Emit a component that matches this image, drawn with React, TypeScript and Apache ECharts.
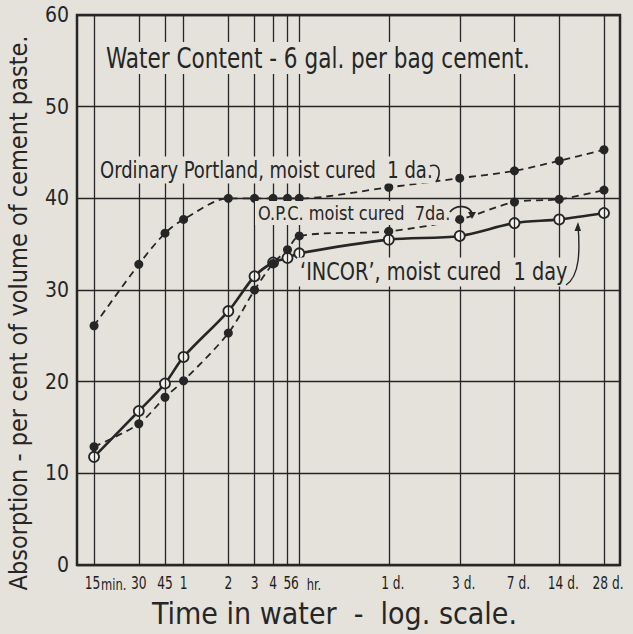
import React, { useEffect, useRef } from "react";
import * as echarts from "echarts";

// Time in water, in hours (log scale)
const hours = [0.25, 0.5, 0.75, 1, 2, 3, 4, 5, 6, 24, 72, 168, 336, 672];
const tickLabels = ["15", "30", "45", "1", "2", "3", "4", "5", "6", "1 d.", "3 d.", "7 d.", "14 d.", "28 d."];
const minuteUnit = "min.";
const hourUnit = "hr.";

// Absorption, per cent of volume of cement paste
const ordinaryPortland1da = [26.1, 32.8, 36.2, 37.7, 40.0, 40.0, 40.0, 40.0, 40.0, 41.2, 42.2, 43.0, 44.1, 45.3];
const opc7da = [12.9, 15.4, 18.3, 20.1, 25.3, 30.0, 32.9, 34.4, 35.9, 36.4, 37.7, 39.6, 39.9, 40.9];
const incor1day = [11.8, 16.8, 19.8, 22.7, 27.7, 31.5, 33.0, 33.5, 34.0, 35.5, 35.9, 37.3, 37.7, 38.4];

const yTicks = [0, 10, 20, 30, 40, 50, 60];

const titleText = "Water Content - 6 gal. per bag cement.";
const opLabel = "Ordinary Portland, moist cured  1 da.";
const opcLabel = "O.P.C. moist cured  7da.";
const incorLabel = "\u2018INCOR\u2019, moist cured  1 day";
const xName = "Time in water  -  log. scale.";
const yName = "Absorption - per cent of volume of cement paste.";

const FONT = "'DejaVu Sans Condensed', 'DejaVu Sans', sans-serif";
const INK = "#262626";
const PAPER = "#e4e2db";

export default function App() {
  const ref = useRef<HTMLDivElement>(null);

  useEffect(() => {
    if (!ref.current) return;
    const chart = echarts.init(ref.current, undefined, { renderer: "svg" });

    const pairs = (vals: number[]) => hours.map((h, i) => [h, vals[i]]);

    const option: any = {
      animation: false,
      backgroundColor: PAPER,
      grid: {
        left: 77,
        right: 13,
        top: 15,
        bottom: 69,
        show: true,
        borderColor: INK,
        borderWidth: 2.5,
        backgroundColor: "transparent",
        outerBoundsMode: "none",
      },
      xAxis: {
        type: "log",
        logBase: 10,
        min: 0.192,
        max: 861,
        axisLine: { show: false },
        axisTick: { show: false },
        axisLabel: { show: false },
        splitLine: { show: false },
        name: xName,
        nameLocation: "middle",
        nameGap: 33,
        nameTextStyle: {
          fontFamily: FONT,
          fontSize: 30,
          color: INK,
          padding: [0, 28, 0, 0],
        },
      },
      yAxis: {
        type: "value",
        min: yTicks[0],
        max: yTicks[yTicks.length - 1],
        interval: 10,
        axisLine: { show: false },
        axisTick: { show: false },
        axisLabel: {
          fontFamily: FONT,
          fontSize: 21,
          color: INK,
          margin: 8,
        },
        splitLine: { show: true, lineStyle: { color: INK, width: 1.3 } },
        name: yName,
        nameLocation: "middle",
        nameRotate: 90,
        nameGap: 46,
        nameTextStyle: {
          fontFamily: FONT,
          fontSize: 25,
          color: INK,
          padding: [0, 46, 0, 0],
        },
      },
      series: [
        {
          name: "grid-lines",
          type: "line",
          data: [],
          silent: true,
          markLine: {
            silent: true,
            symbol: "none",
            lineStyle: { color: INK, width: 1.3, type: "solid" },
            label: { show: false },
            emphasis: { disabled: true },
            data: hours.map((h) => ({ xAxis: h })),
          },
        },
        {
          name: "INCOR, moist cured 1 day",
          type: "line",
          data: pairs(incor1day),
          smooth: 0.3,
          symbol: "circle",
          symbolSize: 10,
          lineStyle: { color: INK, width: 2.6 },
          itemStyle: { color: "#f4f3ef", borderColor: INK, borderWidth: 1.8 },
          z: 3,
        },
        {
          name: "O.P.C. moist cured 7da.",
          type: "line",
          data: pairs(opc7da),
          smooth: 0.3,
          symbol: "circle",
          symbolSize: 9,
          lineStyle: { color: INK, width: 1.8, type: [7, 5] },
          itemStyle: { color: INK, borderColor: INK, borderWidth: 0 },
          z: 4,
        },
        {
          name: "Ordinary Portland, moist cured 1 da.",
          type: "line",
          data: pairs(ordinaryPortland1da),
          smooth: 0.3,
          symbol: "circle",
          symbolSize: 9,
          lineStyle: { color: INK, width: 1.8, type: [7, 5] },
          itemStyle: { color: INK, borderColor: INK, borderWidth: 0 },
          z: 4,
        },
      ],
    };

    chart.setOption(option);

    // tick labels placed through the log axis' own scale
    const xs = hours.map((h) => chart.convertToPixel({ xAxisIndex: 0 }, h) as number);
    const labelY = 583;
    const tickStyle = { fontFamily: FONT, fontSize: 17, fill: "#1e1e1e", verticalAlign: "middle" };
    const tickGraphics: any[] = [];
    hours.forEach((_, i) => {
      let dx = 0;
      if (i === 0) dx = -1.5;
      else if (i === 8) dx = -4.5;
      else if (i >= 9) dx = 4;
      tickGraphics.push({
        type: "text",
        x: xs[i] + dx,
        y: labelY,
        scaleX: 0.8,
        silent: true,
        style: { ...tickStyle, text: tickLabels[i], align: "center" },
      });
    });
    tickGraphics.push({
      type: "text",
      x: xs[0] + 7,
      y: labelY + 1,
      scaleX: 0.8,
      silent: true,
      style: { ...tickStyle, fontSize: 16, text: minuteUnit, align: "left" },
    });
    tickGraphics.push({
      type: "text",
      x: xs[8] + 7.5,
      y: labelY + 1,
      scaleX: 0.8,
      silent: true,
      style: { ...tickStyle, fontSize: 16, text: hourUnit, align: "left" },
    });

    const noteStyle = (text: string, fontSize: number) => ({
      text,
      fontFamily: FONT,
      fontSize,
      fill: INK,
      verticalAlign: "middle",
      backgroundColor: PAPER,
      padding: [2, 3, 2, 3],
    });

    const notes: any[] = [
      { type: "text", x: 103, y: 58, z: 10, scaleY: 1.15, style: noteStyle(titleText, 24) },
      { type: "text", x: 97, y: 170, z: 10, scaleY: 1.12, style: noteStyle(opLabel, 20) },
      { type: "text", x: 255, y: 213, z: 10, scaleY: 1.1, style: noteStyle(opcLabel, 18) },
      { type: "text", x: 297, y: 272, z: 10, scaleY: 1.12, style: noteStyle(incorLabel, 21.5) },
      // hook from "1 da." to its curve
      {
        type: "bezierCurve",
        z: 11,
        shape: { x1: 430, y1: 166, cpx1: 442, cpy1: 162, cpx2: 440, cpy2: 176, x2: 436, y2: 182 },
        style: { stroke: INK, lineWidth: 1.6, fill: "none" },
      },
      // curved arrow from "7da." to its curve
      {
        type: "bezierCurve",
        z: 11,
        shape: { x1: 450, y1: 212, cpx1: 456, cpy1: 204, cpx2: 470, cpy2: 205, x2: 472, y2: 214 },
        style: { stroke: INK, lineWidth: 1.8, fill: "none" },
      },
      {
        type: "polygon",
        z: 11,
        shape: { points: [[468, 212], [476, 212], [472, 219]] },
        style: { fill: INK },
      },
      // leader from "1 day" to the INCOR curve
      {
        type: "bezierCurve",
        z: 11,
        shape: { x1: 566, y1: 285, cpx1: 580, cpy1: 276, cpx2: 580, cpy2: 250, x2: 578, y2: 225 },
        style: { stroke: INK, lineWidth: 1.4, fill: "none" },
      },
      {
        type: "polygon",
        z: 11,
        shape: { points: [[574.5, 231], [581, 231], [578, 222]] },
        style: { fill: INK },
      },
    ];

    chart.setOption({ graphic: [...tickGraphics, ...notes] });
    return () => chart.dispose();
  }, []);

  return (
    <div
      ref={ref}
      style={{ position: "absolute", left: 0, top: 0, width: 633, height: 634 }}
    />
  );
}
